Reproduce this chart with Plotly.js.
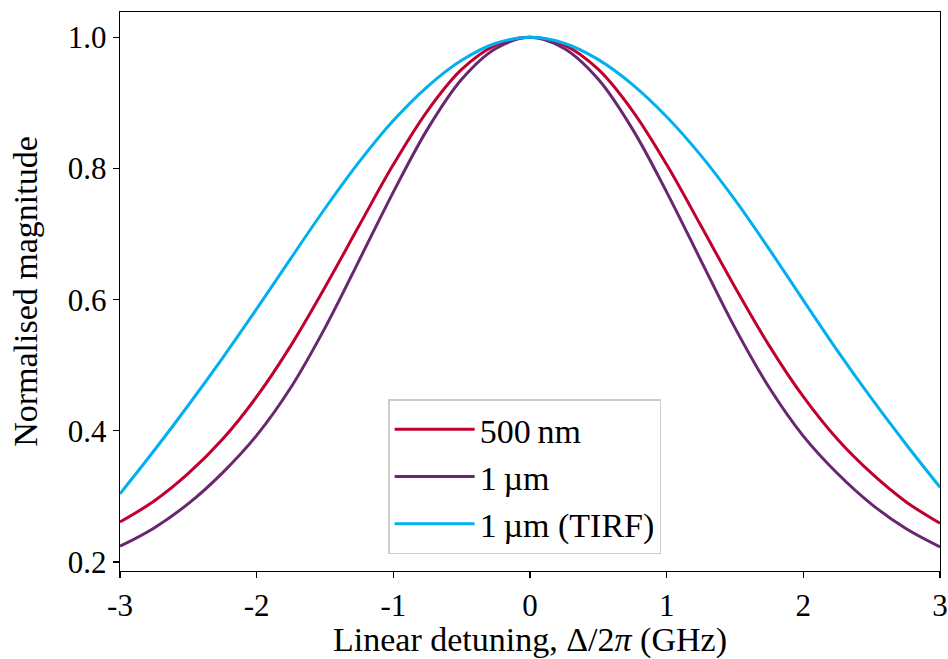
<!DOCTYPE html>
<html>
<head>
<meta charset="utf-8">
<script src="https://cdn.plot.ly/plotly-3.0.1.min.js"></script>
<style>
  html, body { margin: 0; padding: 0; background: #ffffff; }
  #chart { width: 948px; height: 659px; }
</style>
</head>
<body>
<div id="chart"></div>
<script>
// Detuning values (GHz)
const detuning = [-3, -2.75, -2.5, -2.25, -2, -1.75, -1.5, -1.25, -1, -0.75, -0.5, -0.25, 0,
                  0.25, 0.5, 0.75, 1, 1.25, 1.5, 1.75, 2, 2.25, 2.5, 2.75, 3];

// Normalised magnitude, 500 nm
const mag500nm = [0.261, 0.293, 0.335, 0.387, 0.452, 0.530, 0.619, 0.713, 0.806, 0.888, 0.951, 0.988, 1.000,
                  0.988, 0.951, 0.888, 0.806, 0.713, 0.619, 0.530, 0.452, 0.387, 0.335, 0.292, 0.259];

// Normalised magnitude, 1 um
const mag1um = [0.224, 0.252, 0.289, 0.336, 0.393, 0.466, 0.557, 0.660, 0.764, 0.860, 0.936, 0.983, 1.000,
                0.983, 0.936, 0.860, 0.764, 0.660, 0.557, 0.466, 0.392, 0.335, 0.288, 0.251, 0.223];

// Normalised magnitude, 1 um (TIRF)
const mag1umTIRF = [0.304, 0.370, 0.439, 0.511, 0.586, 0.663, 0.739, 0.810, 0.873, 0.925, 0.965, 0.991, 1.000,
                    0.991, 0.966, 0.928, 0.879, 0.820, 0.752, 0.677, 0.599, 0.522, 0.449, 0.380, 0.314];

const seriesNames = ['500\u2009nm', '1\u2009\u00b5m', '1\u2009\u00b5m (TIRF)'];

const xTickVals = [-3, -2, -1, 0, 1, 2, 3];
const xTickText = ['-3', '-2', '-1', '0', '1', '2', '3'];
const yTickVals = [0.2, 0.4, 0.6, 0.8, 1.0];
const yTickText = ['0.2', '0.4', '0.6', '0.8', '1.0'];

const colors = ['#C1002F', '#68276F', '#00B0F0'];
const FONT = '"Liberation Serif", "DejaVu Serif", serif';

const ys = [mag500nm, mag1um, mag1umTIRF];
const traces = ys.map((y, i) => ({
  x: detuning,
  y: y,
  type: 'scatter',
  mode: 'lines',
  name: seriesNames[i],
  line: { color: colors[i], width: 3, shape: 'spline', smoothing: 1 }
}));

const axisCommon = {
  showline: true,
  linecolor: '#000000',
  linewidth: 1.3,
  mirror: true,
  ticks: 'outside',
  ticklen: 6,
  tickwidth: 1.3,
  tickcolor: '#000000',
  showgrid: false,
  zeroline: false,
  tickfont: { family: FONT, size: 31, color: '#000000' }
};

const layout = {
  width: 948,
  height: 659,
  margin: { l: 120, r: 8, t: 12, b: 88 },
  paper_bgcolor: '#ffffff',
  plot_bgcolor: '#ffffff',
  font: { family: FONT, color: '#000000' },
  xaxis: Object.assign({}, axisCommon, {
    range: [-3, 3],
    tickmode: 'array',
    tickvals: xTickVals,
    ticktext: xTickText,
    title: { text: 'Linear detuning, \u0394/2<i>\u03c0</i> (GHz)', font: { family: FONT, size: 34, color: '#000000' }, standoff: 6 }
  }),
  yaxis: Object.assign({}, axisCommon, {
    range: [0.1863, 1.0386],
    tickmode: 'array',
    tickvals: yTickVals,
    ticktext: yTickText,
    title: { text: 'Normalised magnitude', font: { family: FONT, size: 34, color: '#000000' }, standoff: 20 }
  }),
  legend: {
    x: 0.327,
    y: 0.03,
    xanchor: 'left',
    yanchor: 'bottom',
    bgcolor: '#ffffff',
    bordercolor: '#cccccc',
    borderwidth: 1.5,
    itemwidth: 80,
    font: { family: FONT, size: 34, color: '#000000' },
    tracegroupgap: 0
  },
  showlegend: true
};

Plotly.newPlot('chart', traces, layout, { staticPlot: true, displayModeBar: false });
</script>
</body>
</html>
